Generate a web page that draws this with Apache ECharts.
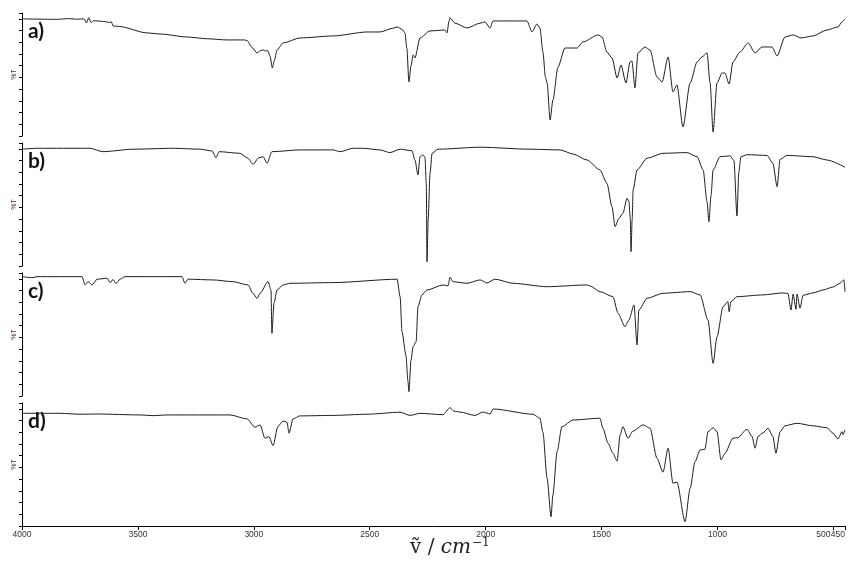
<!DOCTYPE html>
<html>
<head>
<meta charset="utf-8">
<script src="https://cdn.jsdelivr.net/npm/echarts@6/dist/echarts.min.js"></script>
<style>html,body{margin:0;padding:0;background:#fff}#c{width:853px;height:565px}</style>
</head>
<body>
<div id="c"></div>
<script>
// ---- data (wavenumber cm^-1, %T) ----
const wnA = [4000,3850,3800,3760,3737,3730,3722,3712,3702,3690,3676,3640,3625,3615,3607,3580,3461,3400,3288,3200,3116,3040,3029,3010,2986,2970,2960,2950,2939,2930,2920,2912,2900,2874,2801,2658,2512,2456,2400,2382,2360,2348,2340,2331,2322,2313,2305,2283,2240,2175,2167,2158,2154,2132,2080,2024,2003,1981,1968,1822,1800,1779,1766,1753,1742,1735,1722,1710,1688,1658,1606,1580,1515,1498,1477,1455,1433,1416,1395,1377,1369,1356,1343,1313,1291,1261,1239,1213,1192,1175,1149,1118,1088,1067,1045,1032,1019,1002,980,968,950,933,903,868,838,808,765,743,709,674,640,588,528,480,463,450];
const tA  = [100,99.6,100.2,99.7,100,99.5,96.5,101,96.8,98.5,98.2,97.6,96.8,97.5,93.9,93.5,88.0,87.0,84.5,83,82.0,82.0,81.5,76,70.9,73,73.4,72.8,72.6,68,58.1,64,73.4,79.4,83.7,85.4,88.8,88.8,92,93.1,91,88.0,75,46.1,60,69.2,66.6,83.7,89.7,90.5,88.0,98,100.8,96.3,92.2,96.3,97.4,92.2,98.2,98.2,88.8,95.6,92.2,71.7,50,45.3,13.7,30.7,58.9,75.1,75.1,80.3,86.3,84.5,71.7,66.6,49.5,60.6,45.3,63.2,64.0,41.0,70.9,76.0,73.4,50.4,46.1,67.5,37.6,43.6,7.7,45.3,63.2,67.5,70.9,45.3,3.4,45.3,53.8,53.8,44.4,63.2,71.7,79.4,70.9,76.0,76.0,68.3,84.5,86.3,83.7,85.4,90.5,93.1,97.4,100];

const wnB = [4000,3935,3707,3651,3521,3349,3232,3180,3163,3150,3060,3025,3004,2978,2960,2943,2922,2801,2658,2628,2572,2529,2456,2413,2369,2318,2305,2292,2283,2270,2262,2256,2253,2248,2240,2231,2206,2024,1809,1679,1623,1563,1507,1477,1455,1442,1425,1408,1390,1382,1376,1373,1368,1364,1347,1304,1235,1132,1088,1062,1045,1037,1028,1019,989,946,929,916,908,899,873,786,761,743,730,700,588,528,450];
const tB  = [99.7,100.5,100.5,97.6,99.7,100.5,99.7,98.2,92.5,97.6,96.2,92.0,86.8,92.5,93.3,87.7,97.6,99.1,99.1,97.6,100.5,100.5,99.1,96.8,99.7,98.4,90.5,77.7,93.3,94.8,93,70,3.7,40,79.2,96.2,99.7,101.4,99.7,99.1,95.6,90.5,82.0,70.6,50.6,33.6,40.7,45.0,57.8,55,40,12.2,40,64.9,82.0,92.0,96.2,96.8,93.3,82.0,55,37.8,60,82.0,93.3,94,90,42.7,80,93.3,95.0,94.4,87.7,67.7,91.1,94.4,93.3,90.5,84.3];

const wnC = [4000,3953,3935,3741,3728,3715,3698,3676,3633,3620,3607,3595,3577,3556,3310,3297,3284,3176,3090,3025,3004,2986,2973,2939,2926,2922,2913,2900,2874,2844,2658,2382,2369,2361,2344,2335,2331,2322,2313,2300,2292,2275,2253,2184,2162,2154,2141,2080,2024,1994,1960,1882,1735,1563,1550,1507,1451,1429,1399,1382,1360,1347,1339,1304,1235,1118,1075,1041,1019,1002,976,955,950,942,916,804,718,696,683,674,661,657,644,631,588,545,502,472,455,450];
const tC  = [101.9,101.0,101.9,101.9,94.8,97.6,94.8,99.7,100.5,96.8,99.5,96.0,99.7,101.9,101.9,96.2,99.7,99.1,97.6,94.8,87.7,83.4,87.7,97.6,90.5,53.5,79.2,90.5,94.8,96.2,96.8,99.7,84.8,54.9,35.0,12.2,3.7,30.7,42.1,46.4,76.3,86.3,90.5,94.8,94,101.4,97.6,96.2,99.1,96.5,99.7,96.2,93.3,94.8,94,89.1,84.8,70.6,59.2,64.9,77.7,43.6,73.4,83.4,87.7,89.1,86.3,64.9,27.9,50.6,76.3,80.5,72.0,80.5,84.8,86.3,88,87.5,73.4,87,74,87,75,86,88,90.5,93,96.2,99.1,89.1];

const wnD = [4000,3836,3750,3676,3491,3435,3375,3103,3029,2995,2973,2952,2935,2917,2896,2874,2857,2848,2831,2801,2658,2512,2369,2326,2283,2184,2154,2137,2111,2046,2011,1981,1968,1796,1766,1753,1735,1718,1710,1692,1671,1623,1507,1494,1472,1451,1433,1420,1408,1386,1365,1321,1291,1261,1235,1213,1192,1175,1140,1118,1097,1075,1054,1041,1019,1002,985,968,933,912,873,851,838,825,804,782,761,748,730,709,657,588,528,502,480,463,459,450];
const tD  = [96.2,96.2,95.4,95.6,94.8,94.2,94.8,94.8,91.4,84.3,86.3,74.9,76.3,68.6,85,89.7,88.5,79.2,91.4,94,94.4,95.4,97.1,94.4,96.2,95,101.0,98,97.3,94.4,97.3,95.6,99.9,95.4,92.0,80,40.7,7.9,26.5,63.4,84.8,90.5,92.0,83.4,70.6,62.1,55.5,77.7,84.8,74.9,81,86.3,83.5,57.8,45.9,66.4,36.5,37.5,3.7,32.2,54.9,64.9,65.5,80.5,83.9,80.5,56.4,62.1,74.9,75.5,82.6,76.5,66.4,76.5,79.5,83.4,76.5,62.1,80.5,85.6,87.7,85.5,83.9,79.2,74.3,80.5,78,82.0];

const panelLabels = ['a)', 'b)', 'c)', 'd)'];
const xTicks = [4000, 3500, 3000, 2500, 2000, 1500, 1000, 500, 450];
const xLabelsMain = [4000, 3500, 3000, 2500, 2000, 1500, 1000];
const xLabelEnd1 = [500];
const xLabelEnd2 = [450];
const spectra = [[wnA, tA], [wnB, tB], [wnC, tC], [wnD, tD]];

// ---- layout ----
const panelTops = [13, 143, 273, 403];
const panelH = 123;
const lineColor = '#1e1e1e';
const labelFont = "'Liberation Sans Narrow', 'Liberation Sans', sans-serif";

const grids = [], xAxes = [], yAxes = [], series = [], graphics = [];
spectra.forEach(function (s, i) {
  const last = i === spectra.length - 1;
  grids.push({ left: 22, right: 8, top: panelTops[i], height: panelH });
  xAxes.push({
    gridIndex: i, type: 'value', min: 450, max: 4000, inverse: true,
    show: last, position: 'bottom',
    axisLine: { show: true, lineStyle: { color: '#000', width: 1 } },
    axisTick: { show: true, customValues: xTicks, length: 4, lineStyle: { color: '#000' } },
    axisLabel: { show: true, customValues: xLabelsMain, fontSize: 8.5, color: '#333', margin: 4,
      hideOverlap: false, formatter: function (v) { return String(v); }, fontFamily: labelFont },
    splitLine: { show: false }
  });
  yAxes.push({
    gridIndex: i, type: 'value', min: 0, max: 105, interval: 10,
    name: '%T', nameLocation: 'middle', nameGap: 4, nameRotate: 90,
    nameTextStyle: { fontSize: 7, color: '#4a3333', fontFamily: "'Liberation Sans', sans-serif" },
    axisLine: { show: true, lineStyle: { color: '#000', width: 1 } },
    axisTick: { show: true, length: 3, lineStyle: { color: '#000' } },
    axisLabel: { show: false },
    splitLine: { show: false }
  });
  series.push({
    type: 'line', xAxisIndex: i, yAxisIndex: i, showSymbol: false, silent: true,
    smooth: 0.25, smoothMonotone: 'x',
    lineStyle: { color: lineColor, width: 1 }, animation: false,
    data: s[0].map(function (w, k) { return [w, s[1][k]]; })
  });
  graphics.push({
    type: 'text', left: 28, top: panelTops[i] + 8,
    style: { text: panelLabels[i], font: "bold 21px Lato, 'Open Sans', sans-serif", fill: '#141414' }
  });
});

// extra label-only axes on the bottom panel for the crowded 500 / 450 labels
[[xLabelEnd1, 3], [xLabelEnd2, 0]].forEach(function (e) {
  xAxes.push({
    gridIndex: 3, type: 'value', min: 450, max: 4000, inverse: true, position: 'bottom', offset: 0,
    axisLine: { show: false }, axisTick: { show: false }, splitLine: { show: false },
    axisLabel: { show: true, customValues: e[0], fontSize: 8.5, color: '#333', margin: 4,
      align: 'right', padding: [0, e[1], 0, 0],
      formatter: function (v) { return String(v); }, fontFamily: labelFont }
  });
});

graphics.push({
  type: 'text', left: 410, top: 537,
  style: {
    text: '{a|ṽ / }{b|cm}{c|−1}',
    rich: {
      a: { fontSize: 20, fontFamily: "'DejaVu Serif', serif", fill: '#222' },
      b: { fontSize: 20, fontStyle: 'italic', fontFamily: "'DejaVu Serif', serif", fill: '#222' },
      c: { fontSize: 12, fontFamily: "'DejaVu Serif', serif", fill: '#222', verticalAlign: 'top', padding: [0, 0, 10, 1] }
    }
  }
});

const chart = echarts.init(document.getElementById('c'), null, { renderer: 'canvas' });
chart.setOption({
  animation: false,
  backgroundColor: '#fff',
  grid: grids, xAxis: xAxes, yAxis: yAxes, series: series, graphic: graphics
});
</script>
</body>
</html>
